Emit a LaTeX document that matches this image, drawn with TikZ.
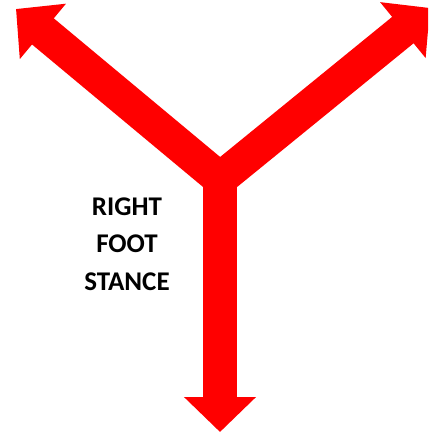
\documentclass[tikz,border=0pt]{standalone}
\usepackage{fontspec}
\setmainfont{Carlito}
\usetikzlibrary{arrows.meta}
\tikzstyle{arm} = [draw=red, line width=34pt, line join=miter]

\begin{document}
\begin{tikzpicture}[x=1pt,y=-1pt,>={Triangle[length=35pt,width=70pt]}]
		\useasboundingbox (0,0) rectangle (428,435);
		\clip (0,0) rectangle (428,435);
		\coordinate (mid) at (220,179);
		\coordinate (lefttip) at (16,9);
		\coordinate (righttip) at (430,8);
		\coordinate (downtip) at (220,432);
		\draw [arm,->] (mid)--(downtip);
		\draw [arm,<->] (lefttip)--(mid)--(righttip);
		\node[align=center,font=\bfseries\fontsize{27}{37.5}\selectfont] (label) at (127,244) {RIGHT\\FOOT\\STANCE};
	\end{tikzpicture}
\end{document}
